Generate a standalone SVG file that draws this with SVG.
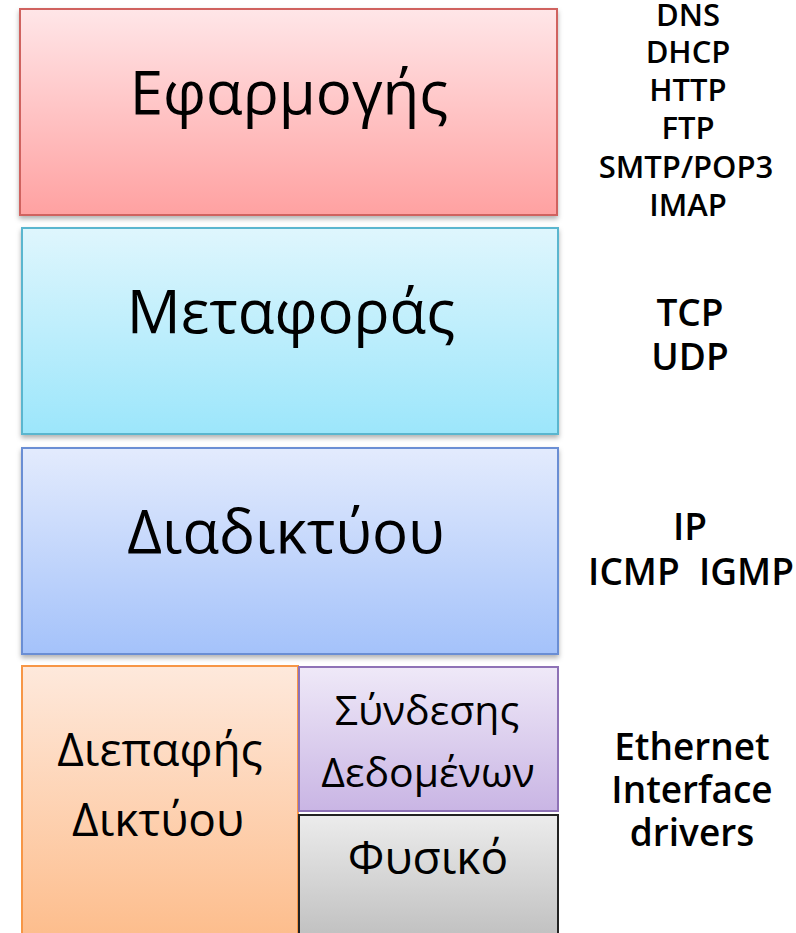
<svg xmlns="http://www.w3.org/2000/svg" width="796" height="933" viewBox="0 0 796 933">
<defs>
<linearGradient id="gApp" x1="0" y1="0" x2="0" y2="1"><stop offset="0" stop-color="#FFE6E8"/><stop offset="1" stop-color="#FFA1A1"/></linearGradient>
<linearGradient id="gTr" x1="0" y1="0" x2="0" y2="1"><stop offset="0" stop-color="#DFF6FD"/><stop offset="1" stop-color="#9CE6FB"/></linearGradient>
<linearGradient id="gNet" x1="0" y1="0" x2="0" y2="1"><stop offset="0" stop-color="#E3EBFD"/><stop offset="1" stop-color="#A4C2FA"/></linearGradient>
<linearGradient id="gIf" x1="0" y1="0" x2="0" y2="1"><stop offset="0" stop-color="#FEE9DC"/><stop offset="1" stop-color="#FDBD8C"/></linearGradient>
<linearGradient id="gDl" x1="0" y1="0" x2="0" y2="1"><stop offset="0" stop-color="#EFE9F8"/><stop offset="1" stop-color="#C9B5E4"/></linearGradient>
<linearGradient id="gPh" x1="0" y1="0" x2="0" y2="1"><stop offset="0" stop-color="#ECECEC"/><stop offset="1" stop-color="#C0C0C0"/></linearGradient>
<filter id="sh" x="-5%" y="-5%" width="110%" height="115%"><feDropShadow dx="0" dy="3" stdDeviation="2.5" flood-color="#000" flood-opacity="0.3"/></filter>
</defs>
<style>
.box{stroke-width:2;filter:url(#sh)}
.lbl{font-family:"Open Sans","DejaVu Sans",sans-serif;fill:#000;text-anchor:middle}
.big{font-size:60px}
.mid{font-size:46px}
.sm{font-size:41px}
.proto{font-family:"Open Sans","DejaVu Sans",sans-serif;font-weight:600;font-size:31px;fill:#000;text-anchor:middle}
.pl{font-size:37px}
</style>
<g id="app">
<rect class="box" x="20" y="9" width="537" height="206" fill="url(#gApp)" stroke="#D0625F"/>
<text class="lbl big" x="289" y="114">Εφαρμογής</text>
</g>
<g id="transport">
<rect class="box" x="22" y="228" width="536" height="206" fill="url(#gTr)" stroke="#5AB6CF"/>
<text class="lbl big" x="291" y="333">Μεταφοράς</text>
</g>
<g id="internet">
<rect class="box" x="22" y="448" width="536" height="206" fill="url(#gNet)" stroke="#6A8ED4"/>
<text class="lbl big" x="286" y="553">Διαδικτύου</text>
</g>
<g id="netif">
<rect x="22" y="666" width="276" height="272" fill="url(#gIf)" stroke="#F79646" stroke-width="2"/>
<text class="lbl mid" x="160" y="766">Διεπαφής</text>
<text class="lbl mid" x="158" y="836">Δικτύου</text>
</g>
<g id="datalink">
<rect x="299" y="667" width="259" height="144" fill="url(#gDl)" stroke="#8E72B6" stroke-width="2"/>
<text class="lbl sm" x="427" y="725">Σύνδεσης</text>
<text class="lbl sm" x="428" y="787">Δεδομένων</text>
</g>
<g id="physical">
<rect x="299" y="815" width="259" height="123" fill="url(#gPh)" stroke="#222" stroke-width="2"/>
<text class="lbl mid" x="428" y="874">Φυσικό</text>
</g>
<g id="protocols">
<text class="proto" x="688" y="26">DNS</text>
<text class="proto" x="688" y="63">DHCP</text>
<text class="proto" x="688" y="101">HTTP</text>
<text class="proto" x="688" y="139">FTP</text>
<text class="proto" x="686" y="178">SMTP/POP3</text>
<text class="proto" x="688" y="216">IMAP</text>
<text class="proto pl" x="690" y="326">TCP</text>
<text class="proto pl" x="690" y="370">UDP</text>
<text class="proto pl" x="690" y="540">IP</text>
<text class="proto pl" x="691" y="585" xml:space="preserve">ICMP  IGMP</text>
<text class="proto pl" x="692" y="760">Ethernet</text>
<text class="proto pl" x="692" y="803">Interface</text>
<text class="proto pl" x="692" y="846">drivers</text>
</g>
<g id="connectors"/>
</svg>
